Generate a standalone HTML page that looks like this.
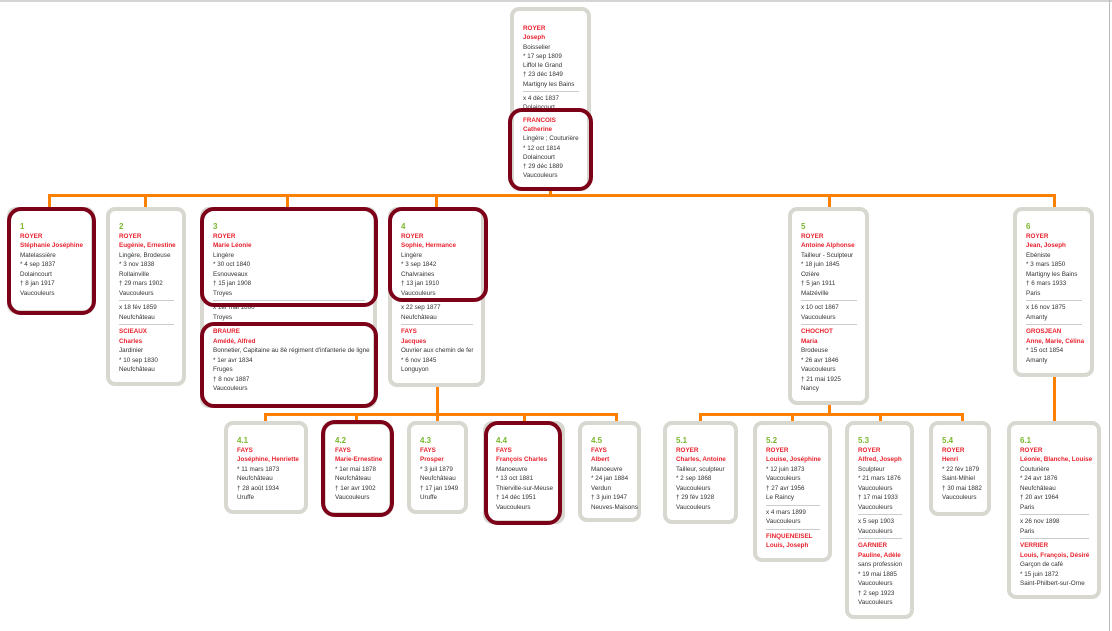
<!DOCTYPE html>
<html><head><meta charset="utf-8"><style>
body{margin:0;width:1112px;height:631px;position:relative;overflow:hidden;background:#fff;font-family:"Liberation Sans",sans-serif;}
.b{position:absolute;box-sizing:border-box;border:4px solid #d8d8d0;border-radius:9px;background:#fff;padding:11px 0 0 9px;font-size:6.3px;line-height:9.5px;color:#333;white-space:nowrap;}
.n{color:#7cb82f;font-size:8px;font-weight:bold;}
.r{color:#e8222e;font-weight:bold;}
.s{height:1px;background:#ccc;margin:2px 8px 2px 0;}
.h{position:absolute;box-sizing:border-box;border:4px solid #7d0019;border-radius:14px;}
.o{position:absolute;background:#ff8000;}
</style></head><body>
<div style="position:absolute;left:0;top:0;width:1112px;height:2px;background:#d4d4d4"></div>
<div style="position:absolute;left:1109px;top:0;width:1px;height:631px;background:#bbb"></div>

<div class="o" style="left:549px;top:188px;width:3px;height:9px"></div>
<div class="o" style="left:48px;top:194px;width:1008px;height:3px"></div>
<div class="o" style="left:48px;top:194px;width:3px;height:14px"></div>
<div class="o" style="left:144px;top:194px;width:3px;height:14px"></div>
<div class="o" style="left:286px;top:194px;width:3px;height:14px"></div>
<div class="o" style="left:435px;top:194px;width:3px;height:14px"></div>
<div class="o" style="left:828px;top:194px;width:3px;height:14px"></div>
<div class="o" style="left:1053px;top:194px;width:3px;height:14px"></div>

<div class="o" style="left:436px;top:385px;width:3px;height:30px"></div>
<div class="o" style="left:264px;top:413px;width:354px;height:3px"></div>
<div class="o" style="left:264px;top:413px;width:3px;height:9px"></div>
<div class="o" style="left:355px;top:413px;width:3px;height:9px"></div>
<div class="o" style="left:436px;top:413px;width:3px;height:9px"></div>
<div class="o" style="left:523px;top:413px;width:3px;height:9px"></div>
<div class="o" style="left:615px;top:413px;width:3px;height:9px"></div>

<div class="o" style="left:828px;top:403px;width:3px;height:12px"></div>
<div class="o" style="left:699px;top:413px;width:265px;height:3px"></div>
<div class="o" style="left:699px;top:413px;width:3px;height:9px"></div>
<div class="o" style="left:791px;top:413px;width:3px;height:9px"></div>
<div class="o" style="left:879px;top:413px;width:3px;height:9px"></div>
<div class="o" style="left:961px;top:413px;width:3px;height:9px"></div>
<div class="o" style="left:1053px;top:374px;width:3px;height:48px"></div>

<div class="b" style="left:510px;top:7px;width:81px;height:184px;padding-top:13px;line-height:9.3px">
<div class="r">ROYER</div><div class="r">Joseph</div><div>Boisselier</div><div>* 17 sep 1809</div><div>Liffol le Grand</div><div>† 23 déc 1849</div><div>Martigny les Bains</div><div class="s"></div><div>x 4 déc 1837</div><div>Dolaincourt</div><div style="height:3px"></div><div class="r">FRANCOIS</div><div class="r">Catherine</div><div>Lingère ; Couturière</div><div>* 12 oct 1814</div><div>Dolaincourt</div><div>† 29 déc 1889</div><div>Vaucouleurs</div></div>
<div class="h" style="left:508px;top:108px;width:85px;height:83px"></div>

<div class="b" style="left:7px;top:207px;width:88px;height:107px">
<div class="n">1</div><div class="r">ROYER</div><div class="r">Stéphanie Joséphine</div><div>Matelassière</div><div>* 4 sep 1837</div><div>Dolaincourt</div><div>† 8 jan 1917</div><div>Vaucouleurs</div></div>
<div class="h" style="left:7px;top:207px;width:89px;height:108px"></div>

<div class="b" style="left:106px;top:207px;width:80px;height:179px">
<div class="n">2</div><div class="r">ROYER</div><div class="r">Eugénie, Ernestine</div><div>Lingère, Brodeuse</div><div>* 3 nov 1838</div><div>Rollainville</div><div>† 29 mars 1902</div><div>Vaucouleurs</div><div class="s"></div><div>x 18 fév 1859</div><div>Neufchâteau</div><div class="s"></div><div class="r">SCIEAUX</div><div class="r">Charles</div><div>Jardinier</div><div>* 10 sep 1830</div><div>Neufchâteau</div></div>

<div class="b" style="left:200px;top:207px;width:177px;height:201px">
<div class="n">3</div><div class="r">ROYER</div><div class="r">Marie Léonie</div><div>Lingère</div><div>* 30 oct 1840</div><div>Esnouveaux</div><div>† 15 jan 1908</div><div>Troyes</div><div class="s"></div><div>x 1er mai 1860</div><div>Troyes</div><div class="s"></div><div class="r">BRAURE</div><div class="r">Amédé, Alfred</div><div>Bonnetier, Capitaine au 8è régiment d'infanterie de ligne</div><div>* 1er avr 1834</div><div>Fruges</div><div>† 8 nov 1887</div><div>Vaucouleurs</div></div>
<div class="h" style="left:200px;top:207px;width:178px;height:100px"></div>
<div class="h" style="left:200px;top:322px;width:178px;height:86px"></div>

<div class="b" style="left:388px;top:207px;width:97px;height:180px">
<div class="n">4</div><div class="r">ROYER</div><div class="r">Sophie, Hermance</div><div>Lingère</div><div>* 3 sep 1842</div><div>Chalvraines</div><div>† 13 jan 1910</div><div>Vaucouleurs</div><div class="s"></div><div>x 22 sep 1877</div><div>Neufchâteau</div><div class="s"></div><div class="r">FAYS</div><div class="r">Jacques</div><div>Ouvrier aux chemin de fer</div><div>* 6 nov 1845</div><div>Longuyon</div></div>
<div class="h" style="left:388px;top:207px;width:100px;height:95px"></div>

<div class="b" style="left:788px;top:207px;width:81px;height:198px">
<div class="n">5</div><div class="r">ROYER</div><div class="r">Antoine Alphonse</div><div>Tailleur - Sculpteur</div><div>* 18 juin 1845</div><div>Ozière</div><div>† 5 jan 1911</div><div>Malzéville</div><div class="s"></div><div>x 10 oct 1867</div><div>Vaucouleurs</div><div class="s"></div><div class="r">CHOCHOT</div><div class="r">Maria</div><div>Brodeuse</div><div>* 26 avr 1846</div><div>Vaucouleurs</div><div>† 21 mai 1925</div><div>Nancy</div></div>

<div class="b" style="left:1013px;top:207px;width:81px;height:170px">
<div class="n">6</div><div class="r">ROYER</div><div class="r">Jean, Joseph</div><div>Ebéniste</div><div>* 3 mars 1850</div><div>Martigny les Bains</div><div>† 6 mars 1933</div><div>Paris</div><div class="s"></div><div>x 16 nov 1875</div><div>Amanty</div><div class="s"></div><div class="r">GROSJEAN</div><div class="r">Anne, Marie, Célina</div><div>* 15 oct 1854</div><div>Amanty</div></div>

<div class="b" style="left:224px;top:421px;width:84px;height:93px">
<div class="n">4.1</div><div class="r">FAYS</div><div class="r">Joséphine, Henriette</div><div>* 11 mars 1873</div><div>Neufchâteau</div><div>† 28 août 1934</div><div>Uruffe</div></div>
<div class="b" style="left:322px;top:421px;width:71px;height:95px">
<div class="n">4.2</div><div class="r">FAYS</div><div class="r">Marie-Ernestine</div><div>* 1er mai 1878</div><div>Neufchâteau</div><div>† 1er avr 1902</div><div>Vaucouleurs</div></div>
<div class="h" style="left:321px;top:420px;width:73px;height:97px"></div>
<div class="b" style="left:407px;top:421px;width:61px;height:93px">
<div class="n">4.3</div><div class="r">FAYS</div><div class="r">Prosper</div><div>* 3 juil 1879</div><div>Neufchâteau</div><div>† 17 jan 1949</div><div>Uruffe</div></div>
<div class="b" style="left:483px;top:421px;width:82px;height:103px">
<div class="n">4.4</div><div class="r">FAYS</div><div class="r">François Charles</div><div>Manoeuvre</div><div>* 13 oct 1881</div><div>Thierville-sur-Meuse</div><div>† 14 déc 1951</div><div>Vaucouleurs</div></div>
<div class="h" style="left:484px;top:421px;width:78px;height:104px"></div>
<div class="b" style="left:578px;top:421px;width:63px;height:101px">
<div class="n">4.5</div><div class="r">FAYS</div><div class="r">Albert</div><div>Manoeuvre</div><div>* 24 jan 1884</div><div>Verdun</div><div>† 3 juin 1947</div><div>Neuves-Maisons</div></div>

<div class="b" style="left:663px;top:421px;width:75px;height:103px">
<div class="n">5.1</div><div class="r">ROYER</div><div class="r">Charles, Antoine</div><div>Tailleur, sculpteur</div><div>* 2 sep 1868</div><div>Vaucouleurs</div><div>† 29 fév 1928</div><div>Vaucouleurs</div></div>
<div class="b" style="left:753px;top:421px;width:79px;height:141px">
<div class="n">5.2</div><div class="r">ROYER</div><div class="r">Louise, Joséphine</div><div>* 12 juin 1873</div><div>Vaucouleurs</div><div>† 27 avr 1956</div><div>Le Raincy</div><div class="s"></div><div>x 4 mars 1899</div><div>Vaucouleurs</div><div class="s"></div><div class="r">FINQUENEISEL</div><div class="r">Louis, Joseph</div></div>
<div class="b" style="left:845px;top:421px;width:69px;height:198px">
<div class="n">5.3</div><div class="r">ROYER</div><div class="r">Alfred, Joseph</div><div>Sculpteur</div><div>* 21 mars 1876</div><div>Vaucouleurs</div><div>† 17 mai 1933</div><div>Vaucouleurs</div><div class="s"></div><div>x 5 sep 1903</div><div>Vaucouleurs</div><div class="s"></div><div class="r">GARNIER</div><div class="r">Pauline, Adèle</div><div>sans profession</div><div>* 19 mai 1885</div><div>Vaucouleurs</div><div>† 2 sep 1923</div><div>Vaucouleurs</div></div>
<div class="b" style="left:929px;top:421px;width:62px;height:95px">
<div class="n">5.4</div><div class="r">ROYER</div><div class="r">Henri</div><div>* 22 fév 1879</div><div>Saint-Mihiel</div><div>† 30 mai 1882</div><div>Vaucouleurs</div></div>

<div class="b" style="left:1007px;top:421px;width:94px;height:178px">
<div class="n">6.1</div><div class="r">ROYER</div><div class="r">Léonie, Blanche, Louise</div><div>Couturière</div><div>* 24 avr 1876</div><div>Neufchâteau</div><div>† 20 avr 1964</div><div>Paris</div><div class="s"></div><div>x 26 nov 1898</div><div>Paris</div><div class="s"></div><div class="r">VERRIER</div><div class="r">Louis, François, Désiré</div><div>Garçon de café</div><div>* 15 juin 1872</div><div>Saint-Philbert-sur-Orne</div></div>
</body></html>
